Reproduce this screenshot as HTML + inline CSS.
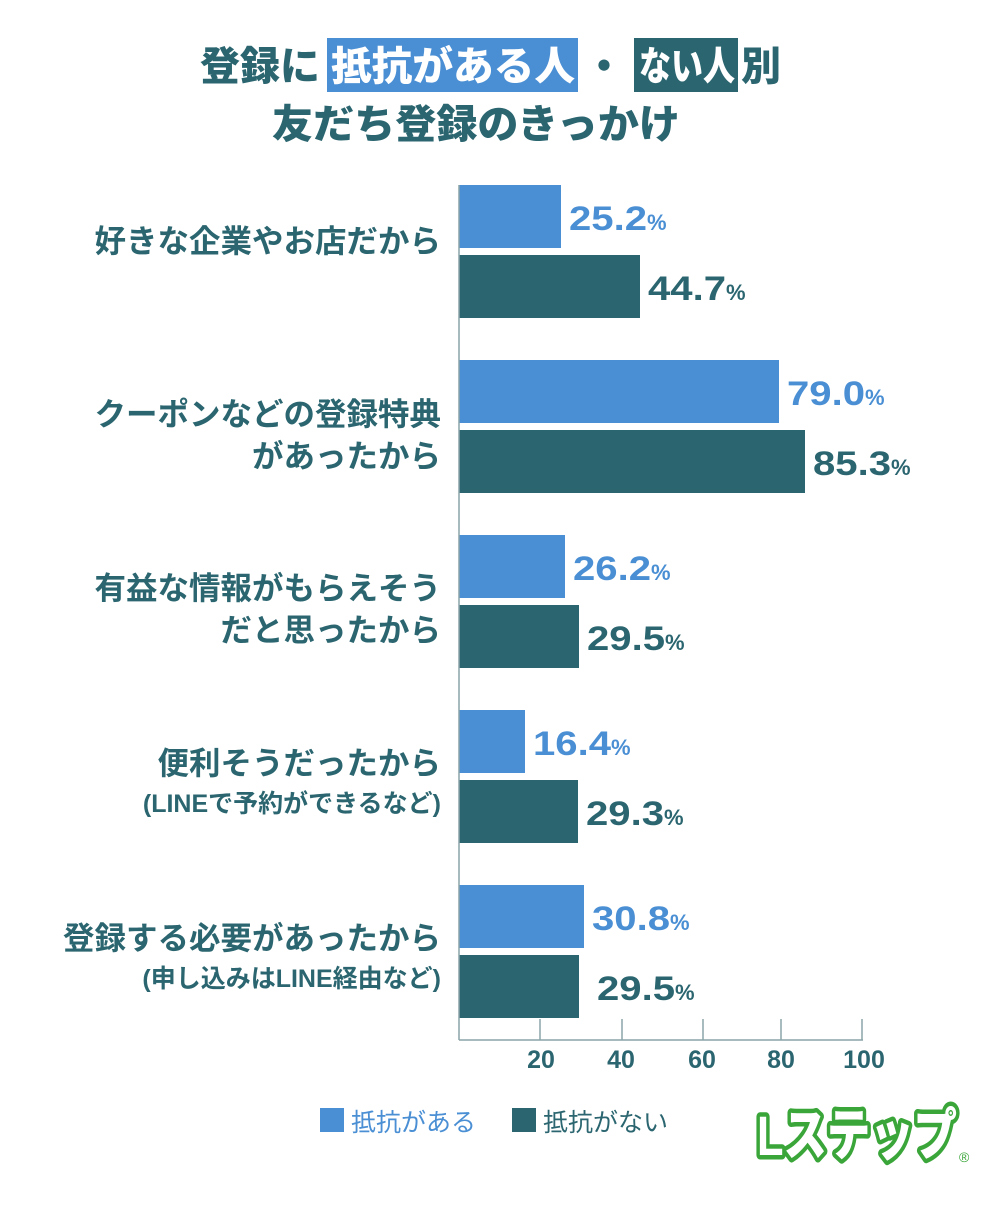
<!DOCTYPE html>
<html><head><meta charset="utf-8"><style>
body{margin:0;background:#fff;}
svg text{font-family:"Liberation Sans","Noto Sans CJK JP",sans-serif;}
</style></head><body>
<svg width="1001" height="1211" xmlns="http://www.w3.org/2000/svg">
<rect x="327" y="38" width="251" height="54" fill="#4a8fd4"/>
<rect x="634" y="38" width="104" height="54" fill="#2b6670"/>
<g font-size="40" font-weight="900" fill="#2b6670">
<text x="200" y="80" textLength="120" lengthAdjust="spacingAndGlyphs">登録に</text>
<text x="331" y="80" fill="#fff" textLength="244" lengthAdjust="spacingAndGlyphs">抵抗がある人</text>
<text x="584" y="80">・</text>
<text x="639" y="80" fill="#fff" textLength="96" lengthAdjust="spacingAndGlyphs">ない人</text>
<text x="741" y="80" textLength="40" lengthAdjust="spacingAndGlyphs">別</text>
<text x="272" y="138" textLength="408" lengthAdjust="spacingAndGlyphs">友だち登録のきっかけ</text>
</g>
<g font-size="31.5" font-weight="700" fill="#2b6670" text-anchor="end">
<text x="441" y="252">好きな企業やお店だから</text>
<text x="441" y="425">クーポンなどの登録特典</text>
<text x="441" y="467">があったから</text>
<text x="441" y="599">有益な情報がもらえそう</text>
<text x="441" y="641">だと思ったから</text>
<text x="441" y="774">便利そうだったから</text>
<text x="441" y="812" font-size="25">(LINEで予約ができるなど)</text>
<text x="441" y="949">登録する必要があったから</text>
<text x="441" y="987" font-size="25">(申し込みはLINE経由など)</text>
</g>
<g fill="#4a8fd4">
<rect x="459" y="185" width="102" height="63"/>
<rect x="459" y="360" width="320" height="63"/>
<rect x="459" y="535" width="106" height="63"/>
<rect x="459" y="710" width="66" height="63"/>
<rect x="459" y="885" width="125" height="63"/>
</g>
<g fill="#2b6670">
<rect x="459" y="255" width="181" height="63"/>
<rect x="459" y="430" width="346" height="63"/>
<rect x="459" y="605" width="120" height="63"/>
<rect x="459" y="780" width="119" height="63"/>
<rect x="459" y="955" width="120" height="63"/>
</g>
<g font-size="34" font-weight="900">
<text x="569" y="230" fill="#4a8fd4"><tspan textLength="78" lengthAdjust="spacingAndGlyphs">25.2</tspan><tspan font-size="22">%</tspan></text>
<text x="648" y="300" fill="#2b6670"><tspan textLength="78" lengthAdjust="spacingAndGlyphs">44.7</tspan><tspan font-size="22">%</tspan></text>
<text x="787" y="405" fill="#4a8fd4"><tspan textLength="78" lengthAdjust="spacingAndGlyphs">79.0</tspan><tspan font-size="22">%</tspan></text>
<text x="813" y="475" fill="#2b6670"><tspan textLength="78" lengthAdjust="spacingAndGlyphs">85.3</tspan><tspan font-size="22">%</tspan></text>
<text x="573" y="580" fill="#4a8fd4"><tspan textLength="78" lengthAdjust="spacingAndGlyphs">26.2</tspan><tspan font-size="22">%</tspan></text>
<text x="587" y="650" fill="#2b6670"><tspan textLength="78" lengthAdjust="spacingAndGlyphs">29.5</tspan><tspan font-size="22">%</tspan></text>
<text x="533" y="755" fill="#4a8fd4"><tspan textLength="78" lengthAdjust="spacingAndGlyphs">16.4</tspan><tspan font-size="22">%</tspan></text>
<text x="586" y="825" fill="#2b6670"><tspan textLength="78" lengthAdjust="spacingAndGlyphs">29.3</tspan><tspan font-size="22">%</tspan></text>
<text x="592" y="930" fill="#4a8fd4"><tspan textLength="78" lengthAdjust="spacingAndGlyphs">30.8</tspan><tspan font-size="22">%</tspan></text>
<text x="597" y="1000" fill="#2b6670"><tspan textLength="78" lengthAdjust="spacingAndGlyphs">29.5</tspan><tspan font-size="22">%</tspan></text>
</g>
<g stroke="#8aa4a8" stroke-width="1.5">
<line x1="459" y1="185" x2="459" y2="1040"/>
<line x1="459" y1="1040" x2="863" y2="1040"/>
<line x1="540" y1="1019" x2="540" y2="1040"/>
<line x1="622" y1="1019" x2="622" y2="1040"/>
<line x1="703" y1="1019" x2="703" y2="1040"/>
<line x1="781" y1="1019" x2="781" y2="1040"/>
<line x1="862" y1="1019" x2="862" y2="1040"/>
</g>
<g font-size="25" font-weight="900" fill="#2b6670" text-anchor="middle">
<text x="541" y="1068">20</text><text x="621" y="1068">40</text><text x="702" y="1068">60</text><text x="781" y="1068">80</text><text x="864" y="1068">100</text>
</g>
<rect x="320" y="1108" width="24" height="24" fill="#4a8fd4"/>
<text x="351" y="1131" font-size="25" fill="#4a8fd4">抵抗がある</text>
<rect x="512" y="1108" width="24" height="24" fill="#2b6670"/>
<text x="543" y="1131" font-size="25" fill="#2b6670">抵抗がない</text>
<text x="757" y="1155" font-size="56" font-weight="900" fill="#fff" stroke="#3aa63a" stroke-width="9" stroke-linejoin="round" paint-order="stroke" textLength="200" lengthAdjust="spacingAndGlyphs">Lステップ</text>
<text x="959" y="1162" font-size="14" fill="#3aa63a">®</text>
</svg>
</body></html>
